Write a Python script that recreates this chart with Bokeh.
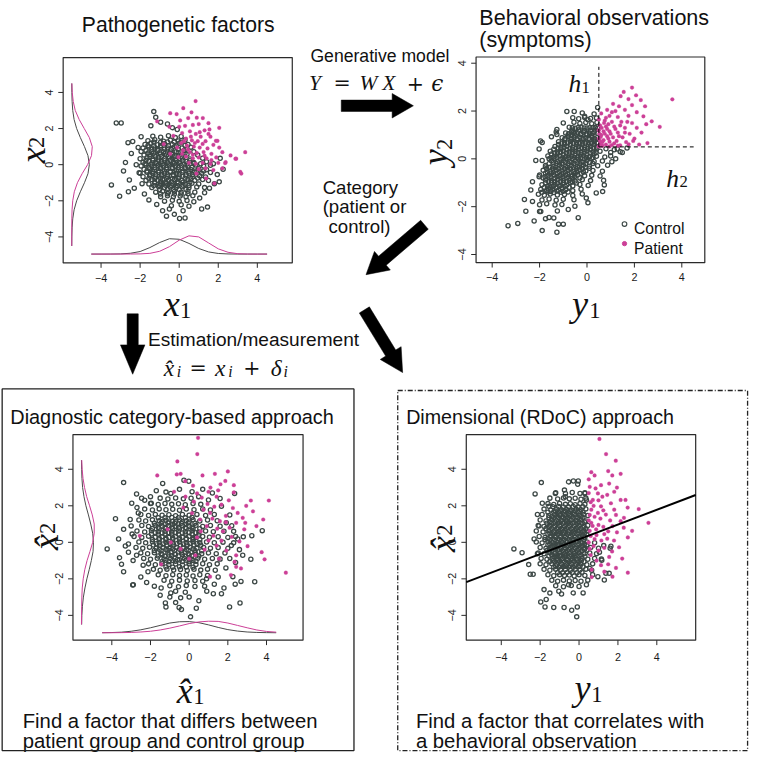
import math
from bokeh.plotting import figure
from bokeh.models import Range1d
from bokeh.core.properties import value
from bokeh.embed import file_html
from bokeh.resources import INLINE

# ---------------------------------------------------------------- data
TICKS = [-4, -2, 0, 2, 4]
TICK_LABELS = ["\u22124", "\u22122", "0", "2", "4"]

# top-left: pathogenetic factors (x1, x2)
TL_CONTROL = [
    (-3.47,-1.12),(-3.22,2.31),(-2.97,2.31),(-3.05,-1.75),(-2.75,0.12),(-2.62,1.22),(-2.55,-0.85),(-2.45,0.62),
    (-2.38,1.28),(-2.3,-1.3),(-2.2,0.0),(-2.1,0.95),(-2.05,-0.45),(-1.95,1.55),(-1.9,-1.05),(-1.78,-1.62),
    (-1.55,-1.95),(-1.3,2.94),(-1.2,2.62),(-1.45,2.15),(-0.95,2.35),(-0.6,2.25),(-0.35,2.05),(-0.1,1.95),
    (-1.15,-2.2),(-0.85,-2.55),(-0.5,-2.45),(-0.25,-2.75),(0.02,-2.98),(0.3,-2.95),(0.2,-2.55),(0.5,-2.3),
    (0.75,-2.05),(-0.65,-2.85),(1.05,-1.85),(1.3,-1.55),(1.55,-1.3),(1.8,-1.05),(2.05,-0.95),(1.95,-0.55),
    (2.25,-0.25),(1.75,0.05),(2.1,0.35),(1.45,-2.35),(-2.6,-1.5),(-2.85,-0.35),(1.15,-2.45),
    (-1.35,1.58),(-0.95,1.52),(-0.55,1.6),(-0.2,1.5),(0.1,1.56),
    (-1.6,1.33),(-1.25,1.38),(-0.8,1.3),(-0.45,1.36),(-0.05,1.31),(0.3,1.37),
    (-1.75,1.12),(-1.45,1.18),(-1.1,1.1),(-0.75,1.16),(-0.35,1.12),(0.0,1.18),(0.45,1.12),
    (-1.85,0.93),(-1.55,0.98),(-1.25,0.92),(-0.95,0.97),(-0.6,0.93),(-0.25,0.99),(0.15,0.92),(0.6,0.97),
    (-1.95,0.73),(-1.7,0.78),(-1.4,0.72),(-1.1,0.77),(-0.8,0.71),(-0.45,0.76),(-0.15,0.72),(0.25,0.78),(0.75,0.72),
    (-1.8,0.53),(-1.5,0.57),(-1.25,0.52),(-0.95,0.58),(-0.65,0.53),(-0.35,0.57),(0.0,0.52),(0.4,0.58),(0.95,0.53),
    (-2.0,0.33),(-1.65,0.37),(-1.35,0.32),(-1.05,0.38),(-0.75,0.33),(-0.5,0.37),(-0.2,0.31),(0.15,0.37),(0.55,0.32),(1.2,0.36),
    (-1.85,0.13),(-1.55,0.18),(-1.2,0.12),(-0.9,0.17),(-0.6,0.11),(-0.3,0.16),(0.0,0.12),(0.35,0.18),(0.75,0.12),(1.4,0.16),
    (-1.95,-0.07),(-1.7,-0.02),(-1.4,-0.08),(-1.1,-0.03),(-0.8,-0.07),(-0.5,-0.02),(-0.2,-0.08),(0.1,-0.03),(0.45,-0.07),(0.85,-0.02),(1.25,-0.08),(1.6,-0.03),
    (-1.8,-0.27),(-1.5,-0.22),(-1.25,-0.28),(-0.95,-0.23),(-0.65,-0.27),(-0.35,-0.22),(-0.05,-0.28),(0.3,-0.23),(0.6,-0.27),(1.0,-0.22),(1.4,-0.28),
    (-2.0,-0.47),(-1.65,-0.42),(-1.35,-0.48),(-1.05,-0.43),(-0.75,-0.47),(-0.45,-0.42),(-0.15,-0.48),(0.15,-0.43),(0.5,-0.47),(0.8,-0.42),(1.15,-0.48),(1.6,-0.43),
    (-1.85,-0.67),(-1.5,-0.62),(-1.2,-0.68),(-0.9,-0.63),(-0.6,-0.67),(-0.3,-0.62),(0.0,-0.68),(0.35,-0.63),(0.7,-0.67),(1.05,-0.62),(1.35,-0.68),
    (-1.7,-0.87),(-1.4,-0.82),(-1.1,-0.88),(-0.85,-0.83),(-0.55,-0.87),(-0.25,-0.82),(0.15,-0.88),(0.45,-0.83),(0.8,-0.87),(1.2,-0.82),(1.5,-0.88),
    (-1.55,-1.07),(-1.25,-1.02),(-0.95,-1.08),(-0.65,-1.03),(-0.35,-1.07),(-0.05,-1.02),(0.3,-1.08),(0.65,-1.03),(1.0,-1.07),
    (-1.4,-1.27),(-1.05,-1.22),(-0.75,-1.28),(-0.45,-1.23),(-0.15,-1.27),(0.15,-1.22),(0.5,-1.28),(0.9,-1.23),(1.3,-1.27),
    (-1.2,-1.52),(-0.85,-1.47),(-0.55,-1.53),(-0.25,-1.48),(0.1,-1.52),(0.45,-1.47),(0.8,-1.53),
    (-0.95,-1.77),(-0.6,-1.72),(-0.3,-1.78),(0.05,-1.73),(0.35,-1.77),(0.7,-1.72),
    (-0.75,-2.02),(-0.35,-1.97),(0.0,-2.03),(0.4,-1.98),(-0.4,-2.27),(0.1,-2.22),
    (-1.4,0.85),(-1.1,0.85),(-0.75,0.86),(-0.4,0.84),(-0.05,0.86),
    (-1.5,0.45),(-1.2,0.44),(-0.9,0.46),(-0.55,0.45),(-0.25,0.44),(0.1,0.46),
    (-1.7,0.24),(-1.35,0.23),(-1.05,0.25),(-0.75,0.22),(-0.45,0.24),(-0.15,0.23),(0.2,0.25),(0.55,0.22),
    (-1.55,-0.15),(-1.25,-0.16),(-0.95,-0.14),(-0.65,-0.17),(-0.35,-0.15),(-0.05,-0.16),(0.3,-0.14),(0.65,-0.15),
    (-1.5,-0.55),(-1.2,-0.56),(-0.9,-0.54),(-0.6,-0.57),(-0.3,-0.55),(0.0,-0.56),(0.35,-0.54),(0.7,-0.55),
    (-1.25,-0.96),(-0.95,-0.95),(-0.7,-0.97),(-0.4,-0.96),(-0.1,-0.95),(0.2,-0.97),(0.55,-0.96),
    (-1.0,-1.38),(-0.6,-1.37),(-0.3,-1.39),(0.0,-1.38),(0.35,-1.37),
    (-1.3,1.25),(-0.95,1.24),(-0.6,1.26),(-0.25,1.25),(0.1,1.24),
    (-1.6,1.05),(-1.3,1.04),(-0.95,1.06),(-0.55,1.05),(-0.15,1.04),(0.3,1.06),
    (-1.6,0.65),(-1.3,0.64),(-1.0,0.66),(-0.7,0.65),(-0.4,0.64),(-0.05,0.66),(0.3,0.65),
    (-1.75,0.05),(-1.45,0.04),(-1.15,0.06),(-0.85,0.05),(-0.55,0.04),(-0.25,0.06),(0.05,0.05),(0.4,0.04),(0.75,0.06),(1.1,0.05),
    (-1.65,-0.35),(-1.35,-0.36),(-1.05,-0.34),(-0.75,-0.35),(-0.45,-0.36),(-0.15,-0.34),(0.2,-0.35),(0.5,-0.36),(0.9,-0.34),(1.25,-0.35),
    (-1.55,-0.75),(-1.25,-0.76),(-0.95,-0.74),(-0.65,-0.75),(-0.35,-0.76),(-0.05,-0.74),(0.3,-0.75),(0.6,-0.76),(0.95,-0.74),
    (-1.3,-1.15),(-1.0,-1.16),(-0.7,-1.14),(-0.4,-1.15),(-0.1,-1.16),(0.2,-1.14),(0.5,-1.15),
    (-0.95,-1.62),(-0.6,-1.61),(-0.25,-1.63),(0.1,-1.62),(0.45,-1.61),
]
TL_PATIENT = [
    (0.84,3.52),(-0.46,2.85),(-0.13,2.8),(0.21,3.13),(0.63,2.9),(0.46,2.58),(0.05,2.45),(0.9,2.6),(1.21,2.58),
    (0.7,2.2),(0.3,2.15),(1.0,2.25),(1.55,1.95),(1.3,1.9),(0.55,1.85),(0.15,1.75),(-0.3,1.6),(0.85,1.7),
    (1.1,1.55),(1.6,1.55),(1.88,1.32),(0.35,1.45),(0.65,1.35),(0.95,1.3),(1.35,1.3),(1.75,1.1),(0.1,1.2),
    (0.4,1.05),(0.75,1.0),(1.05,0.95),(1.45,0.9),(2.05,0.95),(-0.1,0.95),(0.2,0.8),(0.55,0.7),(0.9,0.65),
    (1.25,0.7),(1.65,0.6),(2.21,0.69),(2.63,0.51),(0.35,0.45),(0.7,0.35),(1.0,0.4),(1.4,0.35),(1.9,0.4),
    (2.38,0.14),(2.88,0.33),(3.38,0.69),(2.92,0.33),(2.35,0.09),(0.5,0.1),(0.85,0.05),(1.2,0.1),(1.6,0.05),
    (2.0,0.1),(1.0,-0.25),(1.35,-0.2),(1.75,-0.3),(0.88,-0.49),(1.38,-0.76),(1.8,-1.03),(3.18,-0.49),
    (3.13,-0.4),(2.21,-0.2),(-1.13,2.4),(-0.79,1.14),(-0.46,0.6),(-0.04,0.42),(1.96,1.32),(2.05,2.04),
    (0.0,2.1),(-0.5,2.1),(1.5,2.3),(0.6,1.55),(1.2,1.15),(0.25,1.3),(0.45,0.85),(0.8,1.2),(1.05,1.8),
    (1.5,1.7),(0.7,0.55),(1.3,0.5),(1.65,0.25),(0.15,0.6),
]

# top-right: behavioural observations (y1, y2)
TR_CONTROL = [
    (-3.33,-2.8),(-2.92,-2.7),(-2.23,-2.6),(-1.89,-3.0),(-1.27,-3.07),(-1.2,-2.73),(-1.0,-2.73),(-2.64,-1.7),
    (-2.3,-1.78),(-2.58,-2.19),(-0.85,1.98),(-0.54,1.98),(-1.96,0.75),(-2.02,0.41),(-2.16,-0.07),(-1.89,-0.07),
    (-1.27,1.23),(-1.27,1.02),(-1.89,0.68),(-2.3,-0.96),(-2.37,-1.3),(-2.02,-0.75),(-1.75,-0.34),(0.45,2.15),
    (-0.1,1.78),(0.04,1.64),(-0.58,1.09),(1.49,0.27),(1.21,0.0),(0.87,-0.27),(1.0,0.27),(1.28,0.41),(1.69,0.45),
    (0.73,-1.09),(0.66,-1.37),(0.39,-1.43),(-0.03,-1.64),(0.04,-1.84),(-0.51,-1.98),(-0.79,-2.12),(-1.06,-1.91),
    (-0.37,-2.46),(-1.6,-2.45),(-2.0,-2.2),
    (-0.2,1.92),(0.3,1.88),
    (-0.6,1.72),(-0.35,1.68),(-0.1,1.73),(0.15,1.69),(0.4,1.71),
    (-1.0,1.5),(-0.55,1.53),(-0.3,1.48),(-0.05,1.52),(0.2,1.47),(0.42,1.52),
    (-0.75,1.32),(-0.5,1.28),(-0.25,1.33),(0.0,1.29),(0.25,1.31),(0.45,1.28),
    (-1.3,1.12),(-0.9,1.08),(-0.65,1.13),(-0.4,1.09),(-0.15,1.12),(0.1,1.08),(0.3,1.11),(0.45,1.07),
    (-1.5,0.92),(-1.05,0.88),(-0.8,0.93),(-0.55,0.89),(-0.3,0.91),(-0.05,0.87),(0.2,0.92),(0.42,0.88),
    (-1.2,0.72),(-0.95,0.68),(-0.7,0.73),(-0.45,0.69),(-0.2,0.71),(0.05,0.67),(0.3,0.72),(0.45,0.68),
    (-1.35,0.52),(-1.1,0.48),(-0.85,0.53),(-0.6,0.49),(-0.35,0.51),(-0.1,0.47),(0.15,0.53),(0.4,0.49),(0.8,0.42),(1.15,0.38),
    (-1.55,0.32),(-1.25,0.28),(-1.0,0.33),(-0.75,0.29),(-0.5,0.31),(-0.25,0.27),(0.0,0.33),(0.25,0.29),(0.55,0.32),(1.4,0.3),
    (-1.65,0.12),(-1.4,0.08),(-1.15,0.13),(-0.9,0.09),(-0.65,0.11),(-0.4,0.07),(-0.15,0.13),(0.1,0.09),(0.4,0.11),(0.75,0.08),(1.0,0.12),
    (-1.5,-0.08),(-1.25,-0.12),(-1.0,-0.07),(-0.75,-0.11),(-0.5,-0.09),(-0.25,-0.13),(0.0,-0.07),(0.3,-0.11),(0.65,-0.09),(1.05,-0.12),
    (-1.75,-0.28),(-1.4,-0.32),(-1.15,-0.27),(-0.9,-0.31),(-0.65,-0.29),(-0.4,-0.33),(-0.15,-0.27),(0.1,-0.31),(0.45,-0.29),
    (-1.85,-0.48),(-1.55,-0.52),(-1.3,-0.47),(-1.05,-0.51),(-0.8,-0.49),(-0.55,-0.53),(-0.3,-0.47),(-0.05,-0.51),(0.25,-0.49),(0.65,-0.52),
    (-2.0,-0.68),(-1.65,-0.72),(-1.4,-0.67),(-1.15,-0.71),(-0.9,-0.69),(-0.65,-0.73),(-0.4,-0.67),(-0.1,-0.71),(0.2,-0.69),(0.55,-0.72),
    (-1.75,-0.88),(-1.5,-0.92),(-1.25,-0.87),(-1.0,-0.91),(-0.75,-0.89),(-0.5,-0.93),(-0.2,-0.87),(0.15,-0.91),(0.7,-0.9),
    (-1.9,-1.08),(-1.6,-1.12),(-1.35,-1.07),(-1.1,-1.11),(-0.85,-1.09),(-0.6,-1.13),(-0.3,-1.07),(0.05,-1.11),
    (-1.95,-1.28),(-1.7,-1.32),(-1.45,-1.27),(-1.2,-1.31),(-0.9,-1.29),(-0.6,-1.33),(-0.25,-1.27),
    (-2.05,-1.48),(-1.8,-1.52),(-1.55,-1.47),(-1.25,-1.51),(-0.95,-1.49),(-0.6,-1.53),(-0.2,-1.47),
    (-1.9,-1.72),(-1.6,-1.68),(-1.3,-1.73),(-1.0,-1.69),(-0.55,-1.71),
    (-2.0,-1.92),(-1.7,-1.88),(-1.35,-1.93),(-1.95,-2.2),(-1.25,-2.18),(-1.75,-2.5),(-1.4,-2.47),
    (-0.6,1.2),(-0.35,1.21),(-0.1,1.19),(0.15,1.2),(0.35,1.21),
    (-0.8,1.0),(-0.5,0.99),(-0.25,1.01),(0.0,1.0),(0.2,0.99),
    (-0.95,0.8),(-0.65,0.81),(-0.4,0.79),(-0.15,0.8),(0.1,0.81),(0.35,0.79),
    (-1.2,0.6),(-0.95,0.61),(-0.7,0.59),(-0.45,0.6),(-0.2,0.61),(0.05,0.59),(0.3,0.6),
    (-1.4,0.4),(-1.1,0.41),(-0.85,0.39),(-0.6,0.4),(-0.35,0.41),(-0.1,0.39),(0.15,0.4),(0.4,0.41),
    (-1.5,0.2),(-1.25,0.21),(-1.0,0.19),(-0.75,0.2),(-0.5,0.21),(-0.25,0.19),(0.0,0.2),(0.3,0.21),
    (-1.6,0.0),(-1.35,0.01),(-1.1,-0.01),(-0.85,0.0),(-0.6,0.01),(-0.35,-0.01),(-0.1,0.0),(0.2,0.01),
    (-1.6,-0.2),(-1.3,-0.19),(-1.05,-0.21),(-0.8,-0.2),(-0.55,-0.19),(-0.3,-0.21),(-0.05,-0.2),(0.25,-0.19),
    (-1.7,-0.4),(-1.45,-0.39),(-1.2,-0.41),(-0.95,-0.4),(-0.7,-0.39),(-0.45,-0.41),(-0.2,-0.4),(0.1,-0.39),
    (-1.75,-0.6),(-1.5,-0.59),(-1.25,-0.61),(-1.0,-0.6),(-0.75,-0.59),(-0.5,-0.61),(-0.25,-0.6),
    (-1.85,-0.8),(-1.6,-0.79),(-1.35,-0.81),(-1.1,-0.8),(-0.85,-0.79),(-0.6,-0.81),(-0.3,-0.8),
    (-1.75,-1.0),(-1.5,-0.99),(-1.25,-1.01),(-1.0,-1.0),(-0.7,-0.99),(-0.45,-1.01),
    (-1.8,-1.2),(-1.55,-1.19),(-1.3,-1.21),(-1.05,-1.2),(-0.75,-1.19),
    (-1.9,-1.4),(-1.65,-1.39),(-1.4,-1.41),(-1.1,-1.4),(-0.8,-1.39),
    (-0.62,1.3),(-0.37,1.31),(-0.12,1.29),(0.12,1.3),(0.35,1.31),
    (-0.77,1.05),(-0.52,1.06),(-0.27,1.04),(-0.02,1.05),(0.22,1.06),
    (-0.92,0.85),(-0.67,0.86),(-0.42,0.84),(-0.17,0.85),(0.08,0.86),(0.32,0.84),
    (-1.07,0.65),(-0.82,0.66),(-0.57,0.64),(-0.32,0.65),(-0.07,0.66),(0.18,0.64),(0.42,0.65),
    (-1.22,0.45),(-0.97,0.46),(-0.72,0.44),(-0.47,0.45),(-0.22,0.46),(0.03,0.44),(0.28,0.45),
    (-1.37,0.25),(-1.12,0.26),(-0.87,0.24),(-0.62,0.25),(-0.37,0.26),(-0.12,0.24),(0.13,0.25),(0.38,0.26),
    (-1.52,0.05),(-1.27,0.06),(-1.02,0.04),(-0.77,0.05),(-0.52,0.06),(-0.27,0.04),(-0.02,0.05),(0.25,0.06),
    (-1.42,-0.15),(-1.17,-0.16),(-0.92,-0.14),(-0.67,-0.15),(-0.42,-0.16),(-0.17,-0.14),(0.1,-0.15),
    (-1.57,-0.35),(-1.32,-0.36),(-1.07,-0.34),(-0.82,-0.35),(-0.57,-0.36),(-0.32,-0.34),(-0.07,-0.35),
    (-1.67,-0.55),(-1.42,-0.56),(-1.17,-0.54),(-0.92,-0.55),(-0.67,-0.56),(-0.42,-0.54),(-0.15,-0.55),
    (-1.77,-0.75),(-1.52,-0.76),(-1.27,-0.74),(-1.02,-0.75),(-0.77,-0.76),(-0.52,-0.74),
    (-1.62,-0.95),(-1.37,-0.96),(-1.12,-0.94),(-0.87,-0.95),(-0.62,-0.96),
    (-1.67,-1.15),(-1.42,-1.16),(-1.17,-1.14),(-0.92,-1.15),
    (-1.77,-1.35),(-1.52,-1.36),(-1.27,-1.34),(-1.0,-1.35),
]
TR_PATIENT = [
    (3.6,2.49),(1.9,2.98),(1.42,2.62),(1.55,2.8),(2.07,2.66),(2.27,2.46),(1.75,2.5),(1.1,2.3),(1.35,2.2),
    (1.9,2.25),(2.45,2.2),(0.85,2.05),(1.2,2.0),(1.6,2.05),(2.1,1.95),(0.6,1.9),(0.95,1.8),(1.3,1.75),
    (1.75,1.8),(2.38,1.78),(0.5,1.65),(0.75,1.6),(1.05,1.55),(1.45,1.55),(1.9,1.5),(2.73,1.57),(0.55,1.4),
    (0.8,1.35),(1.15,1.35),(1.6,1.3),(2.1,1.3),(3.07,1.34),(0.5,1.2),(0.7,1.15),(0.95,1.15),(1.3,1.1),
    (1.8,1.05),(2.3,1.1),(0.6,1.0),(0.85,0.95),(1.1,0.9),(1.5,0.9),(2.0,0.85),(0.5,0.85),(0.7,0.78),
    (0.95,0.72),(1.25,0.75),(1.65,0.7),(2.55,0.66),(0.55,0.62),(0.8,0.6),(1.05,0.58),(1.4,0.57),(1.76,0.61),
    (0.5,0.52),(0.65,0.7),(0.9,0.85),(1.2,1.25),(0.62,1.3),(0.75,1.05),(1.0,1.05),(0.58,0.92),(0.72,1.5),
    (1.35,0.95),(1.15,0.65),(0.9,1.45),(1.05,1.95),(1.4,1.4),(0.52,1.05),(0.8,1.72),(1.6,1.1),(1.95,0.75),
    (1.3,0.55),(2.2,0.6),(1.7,1.55),(2.5,1.45),(0.65,0.55),(0.95,0.52),(0.55,0.75),(0.85,1.25),
]

# bottom-left: estimated factors (x^1, x^2)
BL_CONTROL = [
    (-4.24,-0.36),(-3.81,1.29),(-3.39,3.27),(-3.65,0.18),(-3.6,-0.84),(-2.92,-2.34),(-3.39,-1.61),(0.07,-4.08),
    (0.37,-3.61),(-1.23,-3.32),(-1.2,-3.54),(-0.52,-3.57),(-0.4,-3.68),(2.09,-3.54),(2.63,-3.32),(3.39,-2.16),
    (3.78,0.64),(3.24,0.36),(-1.37,3.22),(-0.27,3.4),(-0.02,3.34),(-2.72,2.65),(-2.46,2.41),(-2.97,2.14),
    (-2.13,-1.61),(-2.89,-2.32),(-1.45,-2.5),(-0.95,-2.77),(-0.44,-3.04),(0.91,-2.68),(1.25,-2.82),(1.67,-2.82),
    (2.38,-2.29),(2.26,-1.88),(2.68,-2.14),(3.19,-0.93),(2.77,-0.71),(2.51,0.18),(2.18,-0.18),(1.92,1.07),
    (2.35,2.68),(1.67,1.97),(1.0,2.32),(0.49,2.5),(0.15,2.77),(-0.95,2.68),(-1.7,2.82),(-1.96,2.14),
    (-2.63,1.61),(-3.05,1.25),(-3.39,0.71),(-3.14,-0.09),(-2.72,-0.71),(-3.14,-0.54),(-2.38,-1.25),
    (-3.0,0.9),(-2.9,-1.0),(-2.7,1.9),(-2.5,-1.9),(-2.3,2.3),(-3.3,-0.2),(-2.95,0.45),(-2.2,-2.2),(-1.8,-2.4),
    (-1.5,-2.9),(-1.0,-3.0),(-0.7,-3.3),(0.0,-3.0),(0.5,-3.2),(0.8,-2.4),(1.3,-2.3),(1.8,-2.5),(1.9,-1.4),
    (2.4,-1.1),(2.6,-0.4),(2.8,0.3),(2.3,0.6),(2.1,1.5),(1.6,2.4),(1.2,2.7),(0.7,2.9),(-0.5,2.9),(-1.2,2.75),
    (-2.0,2.5),(-3.5,-1.2),(1.5,-1.9),(0.9,-2.0),
    (-1.5,2.42),(-1.1,2.37),(-0.7,2.43),(-0.3,2.38),(0.1,2.41),
    (-2.0,2.12),(-1.6,2.07),(-1.25,2.13),(-0.9,2.08),(-0.55,2.11),(-0.2,2.06),(0.2,2.12),(0.6,2.08),
    (-2.3,1.82),(-1.9,1.77),(-1.55,1.83),(-1.2,1.78),(-0.85,1.81),(-0.5,1.76),(-0.15,1.82),(0.25,1.78),(0.7,1.83),(1.1,1.77),
    (-2.5,1.52),(-2.1,1.47),(-1.75,1.53),(-1.4,1.48),(-1.05,1.51),(-0.7,1.46),(-0.35,1.52),(0.0,1.48),(0.4,1.53),(0.85,1.47),(1.3,1.52),
    (-2.6,1.22),(-2.25,1.17),(-1.9,1.23),(-1.55,1.18),(-1.2,1.21),(-0.85,1.16),(-0.5,1.22),(-0.15,1.18),(0.2,1.23),(0.55,1.17),(0.95,1.22),(1.45,1.18),
    (-2.45,0.92),(-2.1,0.87),(-1.75,0.93),(-1.4,0.88),(-1.05,0.91),(-0.7,0.86),(-0.35,0.92),(0.0,0.88),(0.35,0.93),(0.7,0.87),(1.1,0.92),(1.6,0.88),(2.2,0.91),
    (-2.7,0.62),(-2.3,0.57),(-1.95,0.63),(-1.6,0.58),(-1.25,0.61),(-0.9,0.56),(-0.55,0.62),(-0.2,0.58),(0.15,0.63),(0.5,0.57),(0.85,0.62),(1.25,0.58),(1.8,0.61),
    (-2.85,0.32),(-2.45,0.27),(-2.1,0.33),(-1.75,0.28),(-1.4,0.31),(-1.05,0.26),(-0.7,0.32),(-0.35,0.28),(0.0,0.33),(0.35,0.27),(0.7,0.32),(1.05,0.28),(1.5,0.31),(2.0,0.27),(2.4,0.32),
    (-2.6,0.02),(-2.25,-0.03),(-1.9,0.03),(-1.55,-0.02),(-1.2,0.01),(-0.85,-0.04),(-0.5,0.02),(-0.15,-0.02),(0.2,0.03),(0.55,-0.03),(0.9,0.02),(1.3,-0.02),(1.75,0.01),(2.3,-0.03),
    (-2.75,-0.28),(-2.4,-0.33),(-2.05,-0.27),(-1.7,-0.32),(-1.35,-0.29),(-1.0,-0.34),(-0.65,-0.28),(-0.3,-0.32),(0.05,-0.27),(0.4,-0.33),(0.75,-0.28),(1.1,-0.32),(1.5,-0.29),(2.0,-0.33),
    (-2.5,-0.58),(-2.15,-0.63),(-1.8,-0.57),(-1.45,-0.62),(-1.1,-0.59),(-0.75,-0.64),(-0.4,-0.58),(-0.05,-0.62),(0.3,-0.57),(0.65,-0.63),(1.0,-0.58),(1.4,-0.62),(1.85,-0.59),
    (-2.35,-0.88),(-2.0,-0.93),(-1.65,-0.87),(-1.3,-0.92),(-0.95,-0.89),(-0.6,-0.94),(-0.25,-0.88),(0.1,-0.92),(0.45,-0.87),(0.8,-0.93),(1.2,-0.88),(1.6,-0.92),(2.1,-0.89),
    (-2.1,-1.18),(-1.75,-1.23),(-1.4,-1.17),(-1.05,-1.22),(-0.7,-1.19),(-0.35,-1.24),(0.0,-1.18),(0.35,-1.22),(0.7,-1.17),(1.05,-1.23),(1.45,-1.18),
    (-1.85,-1.48),(-1.5,-1.53),(-1.15,-1.47),(-0.8,-1.52),(-0.45,-1.49),(-0.1,-1.54),(0.25,-1.48),(0.6,-1.52),(0.95,-1.47),(1.35,-1.53),
    (-1.6,-1.78),(-1.2,-1.83),(-0.85,-1.77),(-0.5,-1.82),(-0.15,-1.79),(0.2,-1.84),(0.55,-1.78),(0.95,-1.82),
    (-1.3,-2.08),(-0.9,-2.13),(-0.5,-2.07),(-0.1,-2.12),(0.3,-2.09),(0.7,-2.13),
    (-1.0,-2.38),(-0.55,-2.43),(-0.15,-2.37),(0.3,-2.42),(-0.7,-2.68),(-0.2,-2.73),
    (-1.6,1.35),(-1.25,1.34),(-0.9,1.36),(-0.55,1.35),(-0.2,1.34),(0.15,1.36),
    (-1.8,1.05),(-1.45,1.04),(-1.1,1.06),(-0.75,1.05),(-0.4,1.04),(-0.05,1.06),(0.3,1.05),
    (-1.9,0.75),(-1.55,0.74),(-1.2,0.76),(-0.85,0.75),(-0.5,0.74),(-0.15,0.76),(0.2,0.75),(0.55,0.74),
    (-1.95,0.45),(-1.6,0.44),(-1.25,0.46),(-0.9,0.45),(-0.55,0.44),(-0.2,0.46),(0.15,0.45),(0.5,0.44),
    (-1.9,0.15),(-1.55,0.14),(-1.2,0.16),(-0.85,0.15),(-0.5,0.14),(-0.15,0.16),(0.2,0.15),(0.55,0.14),
    (-1.85,-0.15),(-1.5,-0.16),(-1.15,-0.14),(-0.8,-0.15),(-0.45,-0.16),(-0.1,-0.14),(0.25,-0.15),(0.6,-0.16),
    (-1.8,-0.45),(-1.45,-0.46),(-1.1,-0.44),(-0.75,-0.45),(-0.4,-0.46),(-0.05,-0.44),(0.3,-0.45),(0.65,-0.46),
    (-1.6,-0.75),(-1.25,-0.76),(-0.9,-0.74),(-0.55,-0.75),(-0.2,-0.76),(0.15,-0.74),(0.5,-0.75),
    (-1.4,-1.05),(-1.05,-1.06),(-0.7,-1.04),(-0.35,-1.05),(0.0,-1.06),(0.35,-1.04),
    (-1.2,-1.35),(-0.85,-1.36),(-0.5,-1.34),(-0.15,-1.35),(0.2,-1.36),
    (-1.4,1.12),(-1.05,1.11),(-0.7,1.13),(-0.35,1.12),(0.0,1.11),
    (-1.6,0.82),(-1.25,0.81),(-0.9,0.83),(-0.55,0.82),(-0.2,0.81),(0.15,0.83),
    (-1.75,0.52),(-1.4,0.51),(-1.05,0.53),(-0.7,0.52),(-0.35,0.51),(0.0,0.53),(0.35,0.52),
    (-1.55,0.22),(-1.2,0.21),(-0.85,0.23),(-0.5,0.22),(-0.15,0.21),(0.2,0.23),
    (-1.7,-0.08),(-1.35,-0.09),(-1.0,-0.07),(-0.65,-0.08),(-0.3,-0.09),(0.05,-0.07),(0.4,-0.08),
    (-1.55,-0.38),(-1.2,-0.39),(-0.85,-0.37),(-0.5,-0.38),(-0.15,-0.39),(0.2,-0.37),
    (-1.4,-0.68),(-1.05,-0.69),(-0.7,-0.67),(-0.35,-0.68),(0.0,-0.69),(0.35,-0.67),
    (-1.2,-0.98),(-0.85,-0.99),(-0.5,-0.97),(-0.15,-0.98),(0.2,-0.99),
]
BL_PATIENT = [
    (-0.61,4.43),(-1.65,3.66),(-0.64,3.72),(-0.44,3.75),(0.69,3.66),(1.33,3.75),(2.0,3.88),(1.87,3.36),
    (1.62,3.18),(2.31,3.13),(2.31,2.73),(3.19,2.29),(4.12,2.29),(5.0,-1.66),(3.83,1.25),(3.48,0.89),
    (2.9,1.07),(3.9,-0.93),(3.75,-0.54),(3.02,-0.21),(2.43,-1.34),(2.16,-1.79),(0.46,5.72),(0.42,4.83),
    (0.41,2.68),(1.0,2.77),(1.42,2.5),(1.67,2.06),(2.26,1.88),(2.51,1.61),(2.77,1.34),(2.43,1.07),
    (2.09,0.8),(1.59,1.16),(1.08,1.61),(0.74,1.79),(0.57,1.25),(0.91,0.89),(1.25,0.36),(1.67,0.09),
    (1.92,-0.45),(2.35,-1.07),(1.42,-0.18),(0.41,0.27),(-0.44,-0.36),(-0.95,0.0),(-1.11,0.71),(-2.55,0.36),
    (0.32,-0.71),(1.08,-1.88),(0.24,2.23),(-0.78,2.77),(-0.19,2.5),(2.68,-1.43),(2.43,-0.71),(2.85,0.71),
    (1.3,1.95),(1.9,1.45),(2.05,2.3),(1.5,2.85),(0.95,2.1),(1.2,1.3),(1.75,0.6),(2.2,0.3),(0.6,0.6),
    (1.0,0.1),(0.15,1.6),(-0.3,1.9),(0.8,-0.4),(1.55,-0.9),(2.6,0.05),(0.2,3.1),(-0.2,3.35),(1.9,1.1),
    (1.45,0.75),(0.65,2.45),(3.3,1.7),(2.95,2.0),(1.1,3.0),(-1.45,-1.2),(0.0,-0.9),
]

# bottom-right: dimensional approach (y1, x^2)
BR_CONTROL = [
    (-3.35,-0.36),(-2.93,-0.57),(-1.94,3.27),(-2.26,2.65),(-1.89,2.14),(-2.59,-1.22),(-2.51,-1.75),(-2.36,-1.75),
    (-1.97,-3.27),(-1.69,-3.13),(-1.75,-3.54),(-1.3,-3.57),(-0.77,-3.57),(-0.38,-3.72),(-0.12,-4.08),(-0.09,-3.54),
    (-0.54,3.31),(-0.29,3.36),(-0.04,3.36),(-0.07,3.18),(-0.75,2.86),(1.55,-1.7),(1.3,-2.06),(1.27,-0.18),
    (1.64,-0.21),(1.17,-0.98),(-2.14,1.52),(-2.06,0.89),(-2.31,0.18),(-2.14,-0.63),(-1.8,-2.59),(-1.04,-2.68),
    (-0.54,-2.32),(0.21,-2.77),(0.38,-2.32),(0.97,-1.88),(0.55,-1.43),(0.8,-0.89),(1.05,-0.54),(1.38,-1.7),
    (1.6,-0.32),(-1.22,2.68),(-1.55,1.97),(-0.71,2.5),(0.3,2.68),(0.38,2.32),
    (-1.2,2.72),(-0.7,2.67),(-0.35,2.73),(0.05,2.68),(0.3,2.71),
    (-1.5,2.42),(-1.1,2.37),(-0.8,2.43),(-0.5,2.38),(-0.2,2.41),(0.1,2.36),(0.35,2.42),
    (-1.6,2.12),(-1.3,2.07),(-1.0,2.13),(-0.7,2.08),(-0.45,2.11),(-0.2,2.06),(0.05,2.12),(0.3,2.08),
    (-1.8,1.82),(-1.45,1.77),(-1.15,1.83),(-0.9,1.78),(-0.65,1.81),(-0.4,1.76),(-0.15,1.82),(0.1,1.78),(0.35,1.83),
    (-1.9,1.52),(-1.55,1.47),(-1.25,1.53),(-1.0,1.48),(-0.75,1.51),(-0.5,1.46),(-0.25,1.52),(0.0,1.48),(0.25,1.53),(0.45,1.47),
    (-2.0,1.22),(-1.7,1.17),(-1.4,1.23),(-1.15,1.18),(-0.9,1.21),(-0.65,1.16),(-0.4,1.22),(-0.15,1.18),(0.1,1.23),(0.35,1.17),
    (-2.1,0.92),(-1.8,0.87),(-1.5,0.93),(-1.25,0.88),(-1.0,0.91),(-0.75,0.86),(-0.5,0.92),(-0.25,0.88),(0.0,0.93),(0.25,0.87),(0.45,0.92),
    (-2.2,0.62),(-1.85,0.57),(-1.55,0.63),(-1.3,0.58),(-1.05,0.61),(-0.8,0.56),(-0.55,0.62),(-0.3,0.58),(-0.05,0.63),(0.2,0.57),(0.42,0.62),
    (-2.05,0.32),(-1.75,0.27),(-1.45,0.33),(-1.2,0.28),(-0.95,0.31),(-0.7,0.26),(-0.45,0.32),(-0.2,0.28),(0.05,0.33),(0.3,0.27),
    (-2.2,0.02),(-1.9,-0.03),(-1.6,0.03),(-1.35,-0.02),(-1.1,0.01),(-0.85,-0.04),(-0.6,0.02),(-0.35,-0.02),(-0.1,0.03),(0.15,-0.03),(0.4,0.02),(0.8,-0.02),
    (-2.0,-0.28),(-1.7,-0.33),(-1.45,-0.27),(-1.2,-0.32),(-0.95,-0.29),(-0.7,-0.34),(-0.45,-0.28),(-0.2,-0.32),(0.05,-0.27),(0.3,-0.33),(0.6,-0.28),(1.0,-0.32),
    (-2.1,-0.58),(-1.8,-0.63),(-1.5,-0.57),(-1.25,-0.62),(-1.0,-0.59),(-0.75,-0.64),(-0.5,-0.58),(-0.25,-0.62),(0.0,-0.57),(0.25,-0.63),(0.55,-0.58),(0.9,-0.62),
    (-1.95,-0.88),(-1.65,-0.93),(-1.35,-0.87),(-1.1,-0.92),(-0.85,-0.89),(-0.6,-0.94),(-0.35,-0.88),(-0.1,-0.92),(0.15,-0.87),(0.45,-0.93),(1.15,-0.92),
    (-2.0,-1.18),(-1.7,-1.23),(-1.4,-1.17),(-1.15,-1.22),(-0.9,-1.19),(-0.65,-1.24),(-0.4,-1.18),(-0.15,-1.22),(0.1,-1.17),(0.4,-1.23),(0.7,-1.18),
    (-1.8,-1.48),(-1.5,-1.53),(-1.2,-1.47),(-0.95,-1.52),(-0.7,-1.49),(-0.45,-1.54),(-0.2,-1.48),(0.05,-1.52),(0.35,-1.47),(0.65,-1.53),
    (-1.6,-1.78),(-1.3,-1.83),(-1.0,-1.77),(-0.75,-1.82),(-0.5,-1.79),(-0.25,-1.84),(0.0,-1.78),(0.3,-1.82),(0.7,-1.77),
    (-1.4,-2.08),(-1.1,-2.13),(-0.8,-2.07),(-0.5,-2.12),(-0.2,-2.09),(0.1,-2.13),(0.45,-2.07),
    (-1.2,-2.38),(-0.8,-2.43),(-0.4,-2.37),(0.0,-2.42),(-1.5,-2.78),(-0.9,-2.83),(-0.3,-2.77),
    (-1.35,1.95),(-1.05,1.96),(-0.8,1.94),(-0.55,1.95),(-0.3,1.96),(-0.05,1.94),(0.2,1.95),
    (-1.6,1.65),(-1.3,1.66),(-1.05,1.64),(-0.8,1.65),(-0.55,1.66),(-0.3,1.64),(-0.05,1.65),(0.2,1.66),
    (-1.55,1.35),(-1.3,1.36),(-1.05,1.34),(-0.8,1.35),(-0.55,1.36),(-0.3,1.34),(-0.05,1.35),(0.2,1.36),
    (-1.65,1.05),(-1.4,1.06),(-1.1,1.04),(-0.85,1.05),(-0.6,1.06),(-0.35,1.04),(-0.1,1.05),(0.15,1.06),
    (-1.7,0.75),(-1.4,0.76),(-1.15,0.74),(-0.9,0.75),(-0.65,0.76),(-0.4,0.74),(-0.15,0.75),(0.1,0.76),(0.35,0.74),
    (-1.6,0.45),(-1.35,0.46),(-1.1,0.44),(-0.85,0.45),(-0.6,0.46),(-0.35,0.44),(-0.1,0.45),(0.15,0.46),(0.4,0.44),
    (-1.75,0.15),(-1.5,0.16),(-1.25,0.14),(-1.0,0.15),(-0.75,0.16),(-0.5,0.14),(-0.25,0.15),(0.0,0.16),(0.25,0.14),
    (-1.6,-0.15),(-1.35,-0.16),(-1.1,-0.14),(-0.85,-0.15),(-0.6,-0.16),(-0.35,-0.14),(-0.1,-0.15),(0.15,-0.16),(0.4,-0.14),
    (-1.65,-0.45),(-1.4,-0.46),(-1.1,-0.44),(-0.85,-0.45),(-0.6,-0.46),(-0.35,-0.44),(-0.1,-0.45),(0.15,-0.46),(0.4,-0.44),
    (-1.55,-0.75),(-1.25,-0.76),(-1.0,-0.74),(-0.75,-0.75),(-0.5,-0.76),(-0.25,-0.74),(0.0,-0.75),(0.3,-0.76),
    (-1.5,-1.05),(-1.25,-1.06),(-1.0,-1.04),(-0.75,-1.05),(-0.5,-1.06),(-0.25,-1.04),(0.0,-1.05),(0.25,-1.06),
    (-1.3,-1.35),(-1.05,-1.36),(-0.8,-1.34),(-0.55,-1.35),(-0.3,-1.36),(-0.05,-1.34),(0.2,-1.35),
    (-1.1,-1.65),(-0.85,-1.66),(-0.6,-1.64),(-0.35,-1.65),(-0.1,-1.66),(0.15,-1.64),
    (-1.2,1.7),(-0.95,1.71),(-0.7,1.69),(-0.45,1.7),(-0.2,1.71),(0.05,1.69),
    (-1.4,1.4),(-1.15,1.41),(-0.9,1.39),(-0.65,1.4),(-0.4,1.41),(-0.15,1.39),(0.1,1.4),
    (-1.5,1.1),(-1.25,1.11),(-1.0,1.09),(-0.75,1.1),(-0.5,1.11),(-0.25,1.09),(0.0,1.1),(0.28,1.11),
    (-1.55,0.8),(-1.3,0.81),(-1.05,0.79),(-0.8,0.8),(-0.55,0.81),(-0.3,0.79),(-0.05,0.8),(0.2,0.81),
    (-1.5,0.5),(-1.25,0.51),(-1.0,0.49),(-0.75,0.5),(-0.5,0.51),(-0.25,0.49),(0.0,0.5),(0.28,0.51),
    (-1.6,0.2),(-1.35,0.21),(-1.1,0.19),(-0.85,0.2),(-0.6,0.21),(-0.35,0.19),(-0.1,0.2),(0.12,0.21),
    (-1.5,-0.1),(-1.25,-0.09),(-1.0,-0.11),(-0.75,-0.1),(-0.5,-0.09),(-0.25,-0.11),(0.0,-0.1),(0.28,-0.09),
    (-1.5,-0.4),(-1.25,-0.39),(-1.0,-0.41),(-0.75,-0.4),(-0.5,-0.39),(-0.25,-0.41),(0.0,-0.4),(0.28,-0.39),
    (-1.4,-0.7),(-1.15,-0.69),(-0.9,-0.71),(-0.65,-0.7),(-0.4,-0.69),(-0.15,-0.71),(0.1,-0.7),
    (-1.35,-1.0),(-1.1,-0.99),(-0.85,-1.01),(-0.6,-1.0),(-0.35,-0.99),(-0.1,-1.01),(0.12,-1.0),
    (-1.2,-1.3),(-0.95,-1.29),(-0.7,-1.31),(-0.45,-1.3),(-0.2,-1.29),(0.05,-1.31),
]
BR_PATIENT = [
    (1.05,5.66),(1.39,4.83),(1.89,4.47),(2.14,3.75),(1.71,3.66),(0.63,3.84),(0.8,3.66),(1.55,3.22),(1.13,3.13),
    (0.55,3.04),(1.81,2.77),(2.14,2.32),(2.39,2.32),(1.64,2.14),(1.81,1.79),(1.13,1.97),(0.97,1.61),(1.38,1.52),
    (0.63,1.79),(0.63,1.07),(0.88,0.71),(1.3,0.45),(1.72,0.89),(2.14,1.16),(2.31,1.34),(2.73,0.63),(2.51,0.27),
    (2.06,-0.27),(2.22,-0.89),(1.55,-0.8),(1.13,-1.25),(1.3,-1.61),(1.72,-1.88),(0.55,-0.36),(0.8,0.18),
    (0.55,0.63),(0.71,2.32),(0.97,2.68),(3.57,1.07),(3.07,1.82),(2.51,-1.66),(0.5,2.7),(0.6,2.2),(0.75,2.0),
    (1.0,2.3),(1.2,2.5),(1.45,2.6),(0.55,1.5),(0.8,1.4),(1.1,1.3),(1.6,1.2),(1.9,1.5),(0.5,1.2),(0.7,0.9),
    (1.0,0.95),(1.25,0.85),(1.5,0.6),(1.95,0.55),(0.6,0.35),(0.9,0.4),(1.15,0.1),(1.45,0.2),(1.8,0.1),
    (0.5,0.0),(0.75,-0.2),(1.0,-0.45),(1.3,-0.3),(1.7,-0.5),(0.6,-0.7),(0.9,-1.0),(1.5,-1.2),(1.9,-1.4),
    (0.65,-1.5),(2.3,0.8),(2.5,1.9),(1.25,1.75),(0.85,2.95),(1.5,3.9),(0.5,3.45),(1.95,3.0),(0.65,-1.9),
]
BR_FIT = (0.165, 0.404)          # intercept, slope of the fitted line
H1, H2 = 0.5, 0.5                # category thresholds
H1_TOP, H2_RIGHT = 3.85, 4.5     # ends of the dashed threshold lines

# marginal density curves (heights)
DENS_GRID = [-4.5, -4.0, -3.5, -3.0, -2.5, -2.0, -1.5, -1.0, -0.5, 0.0, 0.5, 1.0, 1.5, 2.0, 2.5, 3.0, 3.5, 4.0, 4.5]
TL_X1_CONTROL = [0, 0, 0.002, 0.01, 0.044, 0.14, 0.36, 0.64, 0.85, 0.82, 0.59, 0.31, 0.12, 0.033, 0.007, 0, 0, 0, 0]
TL_X1_PATIENT = [0, 0, 0, 0, 0.003, 0.01, 0.04, 0.155, 0.41, 0.77, 1.01, 0.95, 0.62, 0.29, 0.1, 0.02, 0.003, 0, 0]
TL_X2_CONTROL = [0, 0.005, 0.018, 0.05, 0.12, 0.25, 0.44, 0.65, 0.83, 0.9, 0.83, 0.65, 0.44, 0.25, 0.12, 0.05, 0.018, 0.005, 0]
TL_X2_PATIENT = [0, 0, 0.001, 0.004, 0.015, 0.05, 0.13, 0.29, 0.53, 0.81, 1.01, 1.05, 0.9, 0.64, 0.38, 0.18, 0.075, 0.025, 0.007]
BL_X1_CONTROL = [0, 0.01, 0.03, 0.08, 0.16, 0.27, 0.4, 0.53, 0.6, 0.61, 0.55, 0.43, 0.29, 0.17, 0.09, 0.04, 0.015, 0.005, 0]
BL_X1_PATIENT = [0, 0, 0.005, 0.015, 0.04, 0.08, 0.15, 0.25, 0.37, 0.5, 0.59, 0.63, 0.62, 0.53, 0.4, 0.27, 0.15, 0.07, 0.03]
BL_X2_CONTROL = [0.01, 0.02, 0.05, 0.1, 0.18, 0.28, 0.4, 0.51, 0.6, 0.62, 0.58, 0.48, 0.36, 0.23, 0.13, 0.06, 0.025, 0.01, 0]
BL_X2_PATIENT = [0, 0.003, 0.01, 0.02, 0.04, 0.09, 0.17, 0.29, 0.44, 0.58, 0.66, 0.66, 0.56, 0.42, 0.27, 0.16, 0.08, 0.035, 0.015]

# ---------------------------------------------------------------- style / layout
REF_W, REF_H = 767, 769
W, H = 751, 753
S = W / REF_W
SANS = "Liberation Sans"
SERIF = "Liberation Serif"
MATHS = "DejaVu Serif"
GRAY = "#3c4745"
PINK = "#cc3f97"
AXC = "#2a2a2a"
DENS_GRAY = "#4a4a4a"

p = figure(width=W, height=H, x_range=Range1d(0, REF_W), y_range=Range1d(REF_H, 0),
           x_axis_type=None, y_axis_type=None, toolbar_location=None,
           output_backend="svg", min_border=0)
p.outline_line_color = None
p.background_fill_color = "white"
p.border_fill_color = "white"


def fs(size):
    return f"{size * S:.2f}px"


def T(x, y, s, size, font=SANS, style="normal", align="left", base="alphabetic", angle=0.0, color="#111111"):
    p.text(x=[x], y=[y], text=[s], text_font=value(font), text_font_size=fs(size),
           text_font_style=style, text_align=align, text_baseline=base, angle=angle, text_color=color)


def panel(frame, xlim, ylim, control, patient, xlab_dy, ylab_dx):
    L, R, Tp, B = frame
    sp = p.subplot(x_source=Range1d(*xlim), y_source=Range1d(*ylim),
                   x_target=Range1d(L, R), y_target=Range1d(B, Tp))
    kx = (R - L) / (xlim[1] - xlim[0])
    ky = (B - Tp) / (ylim[1] - ylim[0])
    sp.scatter(x=[c[0] for c in control], y=[c[1] for c in control], marker="circle",
               size=4.3 * S, fill_color=None, line_color=GRAY, line_width=1.3)
    sp.scatter(x=[c[0] for c in patient], y=[c[1] for c in patient], marker="circle",
               size=3.8 * S, fill_color=PINK, line_color=PINK, line_width=0.3)
    sp.quad(left=[xlim[0]], right=[xlim[1]], bottom=[ylim[0]], top=[ylim[1]],
            fill_color=None, line_color=AXC, line_width=1.2)
    n = len(TICKS)
    sp.segment(x0=TICKS, y0=[ylim[0]] * n, x1=TICKS, y1=[ylim[0] - 5 / ky] * n, line_color=AXC, line_width=1)
    sp.segment(x0=[xlim[0]] * n, y0=TICKS, x1=[xlim[0] - 5 / kx] * n, y1=TICKS, line_color=AXC, line_width=1)
    sp.text(x=TICKS, y=[ylim[0] - xlab_dy / ky] * n, text=TICK_LABELS, text_font=value(SANS),
            text_font_size=fs(11), text_align="center", text_baseline="middle", text_color="#1a1a1a")
    sp.text(x=[xlim[0] - ylab_dx / kx] * n, y=TICKS, text=TICK_LABELS, text_font=value(SANS),
            text_font_size=fs(11), text_align="center", text_baseline="middle", angle=math.pi / 2,
            text_color="#1a1a1a")
    return sp


# ---- top-left
tl = panel((64, 298, 58.3, 268), (-5.94, 5.79), (-5.44, 5.93), TL_CONTROL, TL_PATIENT, 15, 14)
tl.line(x=DENS_GRID, y=[-4.95 + h for h in TL_X1_CONTROL], line_color=DENS_GRAY, line_width=1)
tl.line(x=DENS_GRID, y=[-4.95 + h for h in TL_X1_PATIENT], line_color=PINK, line_width=1)
tl.line(x=[-5.5 + h for h in TL_X2_CONTROL], y=DENS_GRID, line_color=DENS_GRAY, line_width=1)
tl.line(x=[-5.5 + h for h in TL_X2_PATIENT], y=DENS_GRID, line_color=PINK, line_width=1)

# ---- top-right
tr = panel((485.7, 719.3, 57.7, 267.7), (-4.68, 4.97), (-4.34, 4.26), TR_CONTROL, TR_PATIENT, 15, 14)
tr.segment(x0=[H1, H1], y0=[H2, H2], x1=[H1, H2_RIGHT], y1=[H1_TOP, H2],
           line_color="black", line_width=1, line_dash="4 3")

# ---- bottom-left
bl = panel((74, 309, 443.3, 653.3), (-6.01, 5.89), (-5.36, 5.9), BL_CONTROL, BL_PATIENT, 16.7, 14.7)
bl.line(x=DENS_GRID, y=[-4.95 + h for h in BL_X1_CONTROL], line_color=DENS_GRAY, line_width=1)
bl.line(x=DENS_GRID, y=[-4.95 + h for h in BL_X1_PATIENT], line_color=PINK, line_width=1)
bl.line(x=[-5.57 + h for h in BL_X2_CONTROL], y=DENS_GRID, line_color=DENS_GRAY, line_width=1)
bl.line(x=[-5.57 + h for h in BL_X2_PATIENT], y=DENS_GRID, line_color=PINK, line_width=1)

# ---- bottom-right
BR_XLIM = (-5.8, 6.0)
br = panel((475.7, 710, 443.3, 653.3), BR_XLIM, (-5.36, 5.9), BR_CONTROL, BR_PATIENT, 16.7, 14.7)
a, b = BR_FIT
br.line(x=list(BR_XLIM), y=[a + b * BR_XLIM[0], a + b * BR_XLIM[1]], line_color="black", line_width=2)

# ---------------------------------------------------------------- axis titles (math)
def sym(x, y, main, sub, sx, sy, rotated=False, size=37, subsize=23):
    ang = math.pi / 2 if rotated else 0.0
    T(x, y, main, size, font=SERIF, style="italic", align="center", angle=ang)
    T(sx, sy, sub, subsize, font=SERIF, align="center", angle=ang)

sym(175, 310, "x", "1", 189, 316.5)
sym(33.3, 158, "x", "2", 36.7, 145, rotated=True)
sym(592, 310, "y", "1", 607, 316.7)
sym(443.5, 160, "y", "2", 453, 147, rotated=True)
sym(188.3, 705, "x\u0302", "1", 202.5, 710.7)
sym(46.7, 553, "x\u0302", "2", 48.5, 539, rotated=True)
sym(594.5, 701.7, "y", "1", 609, 708.3)
sym(451.7, 555, "x\u0302", "2", 453.5, 541, rotated=True)

# h1 / h2 labels
T(580, 85, "h", 26, font=SERIF, style="italic")
T(593.5, 88.5, "1", 17, font=SERIF)
T(680, 181.7, "h", 26, font=SERIF, style="italic")
T(693.5, 185, "2", 17, font=SERIF)

# legend
p.scatter(x=[637.3], y=[228.3], marker="circle", size=4.8 * S, fill_color=None, line_color=GRAY, line_width=1.1)
p.scatter(x=[637.3], y=[248.3], marker="circle", size=4.4 * S, fill_color=PINK, line_color=PINK)
T(647, 233.3, "Control", 16)
T(647, 253.3, "Patient", 16)

# ---------------------------------------------------------------- titles and captions
T(181.5, 25, "Pathogenetic factors", 21.6, align="center")
T(489, 17.5, "Behavioral observations", 22)
T(489, 40, "(symptoms)", 22)
T(316.5, 57, "Generative model", 18)
T(315, 84.3, "Y", 22, font=SERIF, style="italic")
T(340, 84.3, "=", 21, font=MATHS)
T(366.7, 84.3, "W", 22, font=SERIF, style="italic")
T(390, 84.3, "X", 22, font=SERIF, style="italic")
T(415, 84.3, "+", 21, font=MATHS)
T(440, 84.3, "\u03f5", 22, font=MATHS, style="italic")
T(329, 190.5, "Category", 19)
T(329, 210.5, "(patient or", 19)
T(335, 231, "control)", 19)
T(150.7, 346.7, "Estimation/measurement", 19.5)
T(166.7, 375, "x\u0302", 24, font=SERIF, style="italic")
T(180, 379, "i", 16, font=SERIF, style="italic")
T(193, 375, "=", 21, font=MATHS)
T(219, 375, "x", 24, font=SERIF, style="italic")
T(232.5, 379, "i", 16, font=SERIF, style="italic")
T(248, 375, "+", 21, font=MATHS)
T(276, 375, "\u03b4", 24, font=SERIF, style="italic")
T(289, 379, "i", 16, font=SERIF, style="italic")
T(10, 425, "Diagnostic category-based approach", 20.3)
T(414.3, 425.5, "Dimensional (RDoC) approach", 20.1)
T(22.7, 735.5, "Find a factor that differs between", 20.7)
T(22.7, 756.5, "patient group and control group", 20.7)
T(424.3, 735.5, "Find a factor that correlates with", 20.7)
T(424.3, 756.5, "a behavioral observation", 20.7)

# ---------------------------------------------------------------- boxes
def box(l, r, t, bt, dash="solid"):
    kw = dict(left=[l], right=[r], top=[t], bottom=[bt], fill_color=None,
              line_color="#222222", line_width=1.3, line_dash=dash)
    try:
        p.quad(border_radius=7 * S, **kw)
    except Exception:
        p.quad(**kw)

box(1.7, 361, 396.7, 766)
box(405.7, 763, 398.3, 766, dash="5 2 1 2")

# ---------------------------------------------------------------- arrows
def arrow(tail, tip, shaft_half, head_half, head_len):
    x0, y0 = tail
    x1, y1 = tip
    d = math.hypot(x1 - x0, y1 - y0)
    ux, uy = (x1 - x0) / d, (y1 - y0) / d
    nx, ny = -uy, ux
    bx, by = x1 - ux * head_len, y1 - uy * head_len
    xs = [x0 + nx * shaft_half, bx + nx * shaft_half, bx + nx * head_half, x1,
          bx - nx * head_half, bx - nx * shaft_half, x0 - nx * shaft_half]
    ys = [y0 + ny * shaft_half, by + ny * shaft_half, by + ny * head_half, y1,
          by - ny * head_half, by - ny * shaft_half, y0 - ny * shaft_half]
    p.patch(xs, ys, fill_color="black", line_color="black", line_width=0.5)

arrow((348, 107.5), (421.7, 107.5), 5.8, 12.5, 21.7)
arrow((433, 229), (373.3, 280), 6.0, 12.5, 22)
arrow((135, 320), (135, 381.7), 5.7, 12.5, 30)
arrow((371.6, 316), (410.7, 380), 6.0, 12.5, 23.4)

open("out.html", "w").write(file_html(p, INLINE))
